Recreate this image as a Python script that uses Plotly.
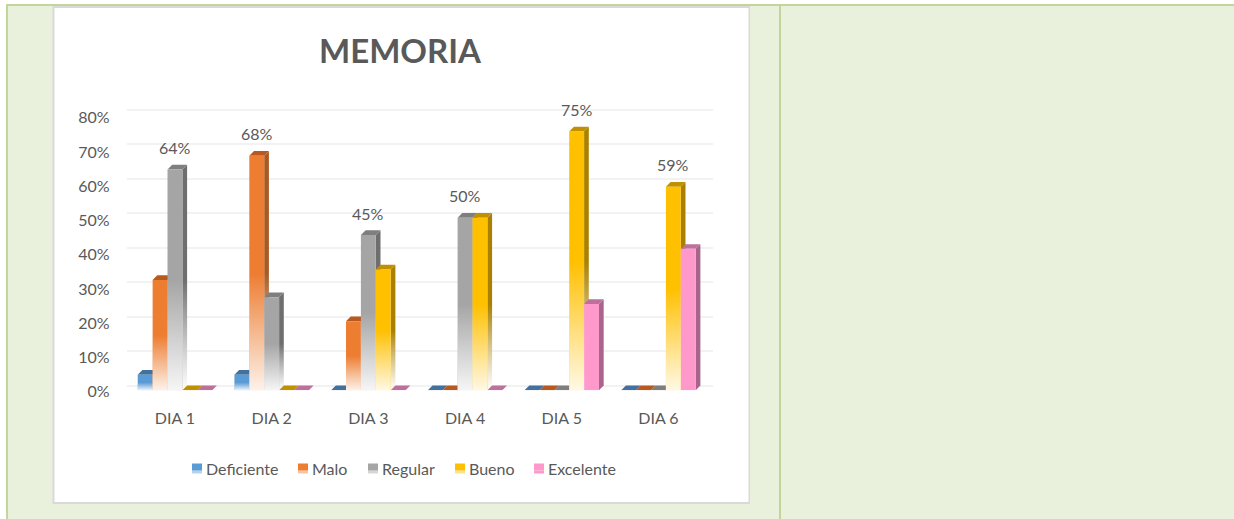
import plotly.graph_objects as go

W, H = 1234, 519
FONT = "Lato"
TEXT = "#595959"

# ---- data ----
categories = ["DIA 1", "DIA 2", "DIA 3", "DIA 4", "DIA 5", "DIA 6"]
deficiente = [0.045, 0.045, 0, 0, 0, 0]
malo = [0.32, 0.68, 0.20, 0, 0, 0]
regular = [0.64, 0.27, 0.45, 0.50, 0, 0]
bueno = [0, 0, 0.35, 0.50, 0.75, 0.59]
excelente = [0, 0, 0, 0, 0.25, 0.41]
series_names = ["Deficiente", "Malo", "Regular", "Bueno", "Excelente"]
series_values = [deficiente, malo, regular, bueno, excelente]
y_ticks = [0, 0.1, 0.2, 0.3, 0.4, 0.5, 0.6, 0.7, 0.8]
# (category, series) pairs that carry a data label
labelled = [(0, 2), (1, 1), (2, 2), (3, 2), (4, 3), (5, 3)]

# ---- styles ----
front = ["#5b9bd5", "#ed7d31", "#a5a5a5", "#ffc000", "#ff99cc"]
side = ["#3f6d96", "#a85a24", "#6e6e6e", "#a98000", "#a8648a"]
top = ["#41719c", "#b8591f", "#7f7f7f", "#bf9000", "#bf6f9c"]
fades = [True, True, True, True, False]
legend_px = [(192, 204), (298, 310), (368, 380), (455, 467), (534, 546)]

GAP = 0.23
BAR_W = (1 - GAP) / 5
X0, X1 = 126.6, 706.8        # front plane, pixels
Y0, Y1 = 390.3, 114.3
DX = 4.7 / ((X1 - X0) / 6)   # depth in axis units
DY = 4.7 / ((Y0 - Y1) / 0.8)
XR, YR = [-0.5, 5.5], [0, 0.8]
PAD = 0.003                  # keeps the first and last grid lines inside the wall axis


def px(x):
    return x / W


def py(y):
    return 1 - y / H


def rgba(hex_c, a):
    return "rgba(%d,%d,%d,%s)" % (int(hex_c[1:3], 16), int(hex_c[3:5], 16), int(hex_c[5:7], 16), a)


fig = go.Figure()

# base subplot: the back wall with its grid
fig.add_trace(go.Scatter(x=[0], y=[0], mode="none", xaxis="x", yaxis="y",
                         hoverinfo="skip", showlegend=False))
# tick label axis
fig.add_trace(go.Scatter(x=[0], y=[0], mode="none", xaxis="x4", yaxis="y4",
                         hoverinfo="skip", showlegend=False))

# side and top faces
for s, vals in enumerate(series_values):
    for c, v in enumerate(vals):
        left = c + (s - 2.5) * BAR_W
        right = left + BAR_W
        if v > 0:
            stops = ([[0, "rgba(255,255,255,0.85)"], [0.5, rgba(side[s], 1)], [1, rgba(side[s], 1)]]
                     if fades[s] else [[0, side[s]], [1, side[s]]])
            fig.add_trace(go.Scatter(
                x=[right, right + DX, right + DX, right, right],
                y=[0, DY, v + DY, v, 0],
                mode="lines", line=dict(width=0), fill="toself",
                fillgradient=dict(type="vertical", colorscale=stops, start=0, stop=v),
                xaxis="x2", yaxis="y2", hoverinfo="skip", showlegend=False))
        fig.add_trace(go.Scatter(
            x=[left, right, right + DX, left + DX, left],
            y=[v, v, v + DY, v + DY, v],
            mode="lines", line=dict(width=0), fill="toself", fillcolor=top[s],
            xaxis="x2", yaxis="y2", hoverinfo="skip", showlegend=False))

# front faces
for s, vals in enumerate(series_values):
    fig.add_trace(go.Bar(x=list(range(len(categories))), y=vals, name=series_names[s],
                         marker=dict(color=front[s], line=dict(width=0)),
                         xaxis="x3", yaxis="y3", showlegend=False))

# fade to white towards the floor
for s, vals in enumerate(series_values):
    if not fades[s]:
        continue
    for c, v in enumerate(vals):
        if v <= 0:
            continue
        left = c + (s - 2.5) * BAR_W
        right = left + BAR_W
        fig.add_trace(go.Scatter(
            x=[left, right, right, left, left], y=[0, 0, v, v, 0],
            mode="lines", line=dict(width=0), fill="toself",
            fillgradient=dict(type="vertical",
                              colorscale=[[0, "rgba(255,255,255,0.9)"], [0.5, "rgba(255,255,255,0)"],
                                          [1, "rgba(255,255,255,0)"]],
                              start=0, stop=v),
            xaxis="x3", yaxis="y3", hoverinfo="skip", showlegend=False))

annotations = [
    dict(text="MEMORIA", xref="paper", yref="paper", x=px(400.5), y=py(50), showarrow=False,
         font=dict(family=FONT, size=33, color=TEXT, weight="bold"), xanchor="center", yanchor="middle")
]
for c, s in labelled:
    v = series_values[s][c]
    annotations.append(dict(text="%d%%" % round(v * 100), xref="x3", yref="y3",
                            x=c + (s - 2) * BAR_W, y=v, yshift=22, showarrow=False,
                            xanchor="center", yanchor="middle",
                            font=dict(family=FONT, size=16, color=TEXT)))

# table and card backdrop
GREEN = "#e9f1dd"
LINE = "#c2d69b"


def rect(x0, y0, x1, y1, color):
    return dict(type="rect", xref="paper", yref="paper", x0=px(x0), x1=px(x1), y0=py(y0), y1=py(y1),
                fillcolor=color, line=dict(width=0), layer="below")


shapes = [
    rect(6, 4, 1234, 519, GREEN),
    rect(6, 4, 1234, 6, LINE),
    rect(6, 4, 8, 519, LINE),
    rect(779, 4, 781, 519, LINE),
    rect(52.5, 6, 750, 504, "#d9d9d9"),
    rect(54.5, 8, 748.5, 502, "#ffffff"),
]

# legend
for (sw, tx), name, col, fade in zip(legend_px, series_names, front, fades):
    shapes.append(dict(type="rect", xref="paper", yref="paper", x0=px(sw), x1=px(sw + 10),
                       y0=py(463.5), y1=py(470.5), fillcolor=col, line=dict(width=0)))
    shapes.append(dict(type="rect", xref="paper", yref="paper", x0=px(sw), x1=px(sw + 10),
                       y0=py(470.5), y1=py(473.5), fillcolor=rgba(col, 0.45 if fade else 1),
                       line=dict(width=0)))
    annotations.append(dict(text=name, xref="paper", yref="paper", x=px(tx), y=py(468),
                            showarrow=False, xanchor="left", yanchor="middle",
                            font=dict(family=FONT, size=16, color=TEXT)))

hidden = dict(showgrid=False, zeroline=False, showticklabels=False, ticks="", showline=False)
wall_px = (385.7 - 110) / 0.8 * PAD
fig.update_layout(
    width=W, height=H, autosize=False,
    margin=dict(l=0, r=0, t=0, b=0, autoexpand=False),
    paper_bgcolor="#ffffff", plot_bgcolor="rgba(0,0,0,0)",
    barmode="group", bargap=GAP, bargroupgap=0,
    showlegend=False,
    annotations=annotations, shapes=shapes,
    font=dict(family=FONT, size=16, color=TEXT),
    xaxis=dict(domain=[px(127), px(712.7)], range=XR, **hidden),
    yaxis=dict(domain=[py(385.7 + wall_px), py(110 - wall_px)], range=[YR[0] - PAD, YR[1] + PAD],
               tickmode="array", tickvals=y_ticks,
               showgrid=True, gridcolor="#f2f2f2", gridwidth=2, zeroline=False,
               showticklabels=False, ticks="", showline=False),
    xaxis2=dict(domain=[px(X0), px(X1)], range=XR, anchor="y2", **hidden),
    yaxis2=dict(domain=[py(Y0), py(Y1)], range=YR, anchor="x2", **hidden),
    xaxis3=dict(domain=[px(X0), px(X1)], range=XR, anchor="y3",
                tickmode="array", tickvals=list(range(len(categories))), ticktext=categories,
                showgrid=False, zeroline=False, showline=False, ticks="",
                ticklabelstandoff=17, tickfont=dict(family=FONT, size=16, color=TEXT)),
    yaxis3=dict(domain=[py(Y0), py(Y1)], range=YR, anchor="x3", **hidden),
    xaxis4=dict(domain=[px(X0), px(X1)], range=XR, anchor="y4", **hidden),
    yaxis4=dict(domain=[py(391.7), py(117.7)], range=YR, anchor="x4", side="left",
                tickmode="array", tickvals=y_ticks,
                ticktext=["%d%%" % round(t * 100) for t in y_ticks],
                showgrid=False, zeroline=False, showline=False, ticks="",
                ticklabelstandoff=16, tickfont=dict(family=FONT, size=16, color=TEXT)),
)

fig.write_html("out.html", post_script="document.body.style.margin='0';",
               config=dict(displayModeBar=False))
